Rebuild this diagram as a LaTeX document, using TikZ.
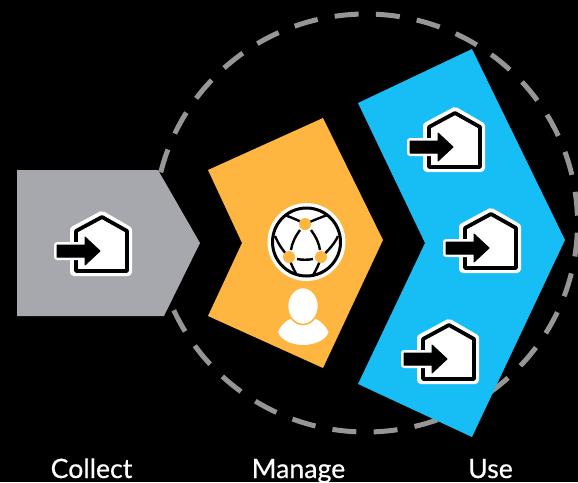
\documentclass[tikz,border=0pt]{standalone}
\usepackage{fontspec}
\setmainfont[FakeBold=0.5]{Lato}
\definecolor{grayc}{HTML}{A7A8AD}
\definecolor{orangec}{HTML}{FFB640}
\definecolor{bluec}{HTML}{17BEF5}
\definecolor{dashc}{HTML}{969694}
\tikzset{
  x=0.75pt,y=-0.75pt,
  label text/.style={text=white,font=\fontsize{20}{24}\selectfont,anchor=base},
  housepath/.pic={
    \draw[white,line width=8*0.75pt,line join=round,fill=white] (-28,-21)--(0,-36)--(26,-21)--(26,21)--(-28,21)--cycle;
    \draw[black,line width=3.8*0.75pt,line join=round,fill=white] (-26,-20)--(0,-34)--(25,-20)--(25,20)--(-26,20)--cycle;
    \draw[white,line width=6*0.75pt,line join=round] (-45,-6)--(-17,-6)--(-17,-14)--(-2,0)--(-17,14)--(-17,6)--(-45,6)--cycle;
    \fill[black,draw=black,line width=1*0.75pt,line join=round] (-45,-6)--(-17,-6)--(-17,-14)--(-2,0)--(-17,14)--(-17,6)--(-45,6)--cycle;
  }
}
\begin{document}
\begin{tikzpicture}
\path[fill=black] (0,0) rectangle (578,482);
\useasboundingbox (0,0) rectangle (578,482);
\coordinate (cc) at (366,223);
\draw[dashc,line width=5*0.75pt,dash pattern=on 24*0.75pt off 17.3*0.75pt,dash phase=34*0.75pt] (cc) ellipse[x radius=211.5*0.75pt,y radius=209*0.75pt];
% chevrons
\fill[grayc] (17,170)--(158,170)--(200,243)--(164,316)--(17,316)--cycle;
\fill[orangec] (208,170)--(323,118)--(383,240)--(323,368)--(208,316)--(242,243)--cycle;
\fill[bluec] (358,103)--(472,49)--(565,240)--(472,437)--(358,384)--(425,243)--cycle;
% house icons
\pic at (102,251) {housepath};
\pic at (455,147) {housepath};
\pic at (491,248) {housepath};
\pic at (449,359) {housepath};
% network icon
\fill[white] (306.5,242) circle[radius=39*0.75pt];
\draw[black,line width=3*0.75pt] (306.5,242) circle[radius=34*0.75pt];
\begin{scope}[black,line width=2.4*0.75pt]
\clip (306.5,242) circle[radius=34*0.75pt];
\draw (300,230) .. controls (295,237) and (292,243) .. (291,250);
\draw (311,230) .. controls (316,237) and (319,243) .. (320,250);
\draw (297,259) .. controls (302,260) and (308,260) .. (313,259);
\draw (275,236) .. controls (278,243) and (282,250) .. (289,257);
\draw (338,236) .. controls (335,243) and (329,250) .. (321,257);
\draw (289,257) .. controls (291,265) and (294,270) .. (298,277);
\draw (321,257) .. controls (319,265) and (316,270) .. (312,277);
\draw (305,224) .. controls (298,220) and (290,217) .. (282,214);
\draw (305,224) .. controls (314,220) and (322,217) .. (330,214);
\end{scope}
\fill[orangec] (305,224) circle[radius=6*0.75pt] (289,257) circle[radius=6*0.75pt] (321,257) circle[radius=6*0.75pt];
% person icon
\fill[white] (278,332) .. controls (280,327) and (284,322) .. (290,319) -- (316,319) .. controls (322,322) and (326,327) .. (328.5,332) .. controls (326,341) and (312,345) .. (303,345) .. controls (294,345) and (281,341) .. (278,332) -- cycle;
\fill[white,draw=orangec,line width=1.6*0.75pt] (303,306) ellipse[x radius=15.5*0.75pt,y radius=18.5*0.75pt];
% labels
\node[label text] (collect) at (91.5,478) {Collect};
\node[label text] (manage) at (298.5,478) {Manage};
\node[label text] (use) at (490.5,478) {Use};
\end{tikzpicture}
\end{document}
